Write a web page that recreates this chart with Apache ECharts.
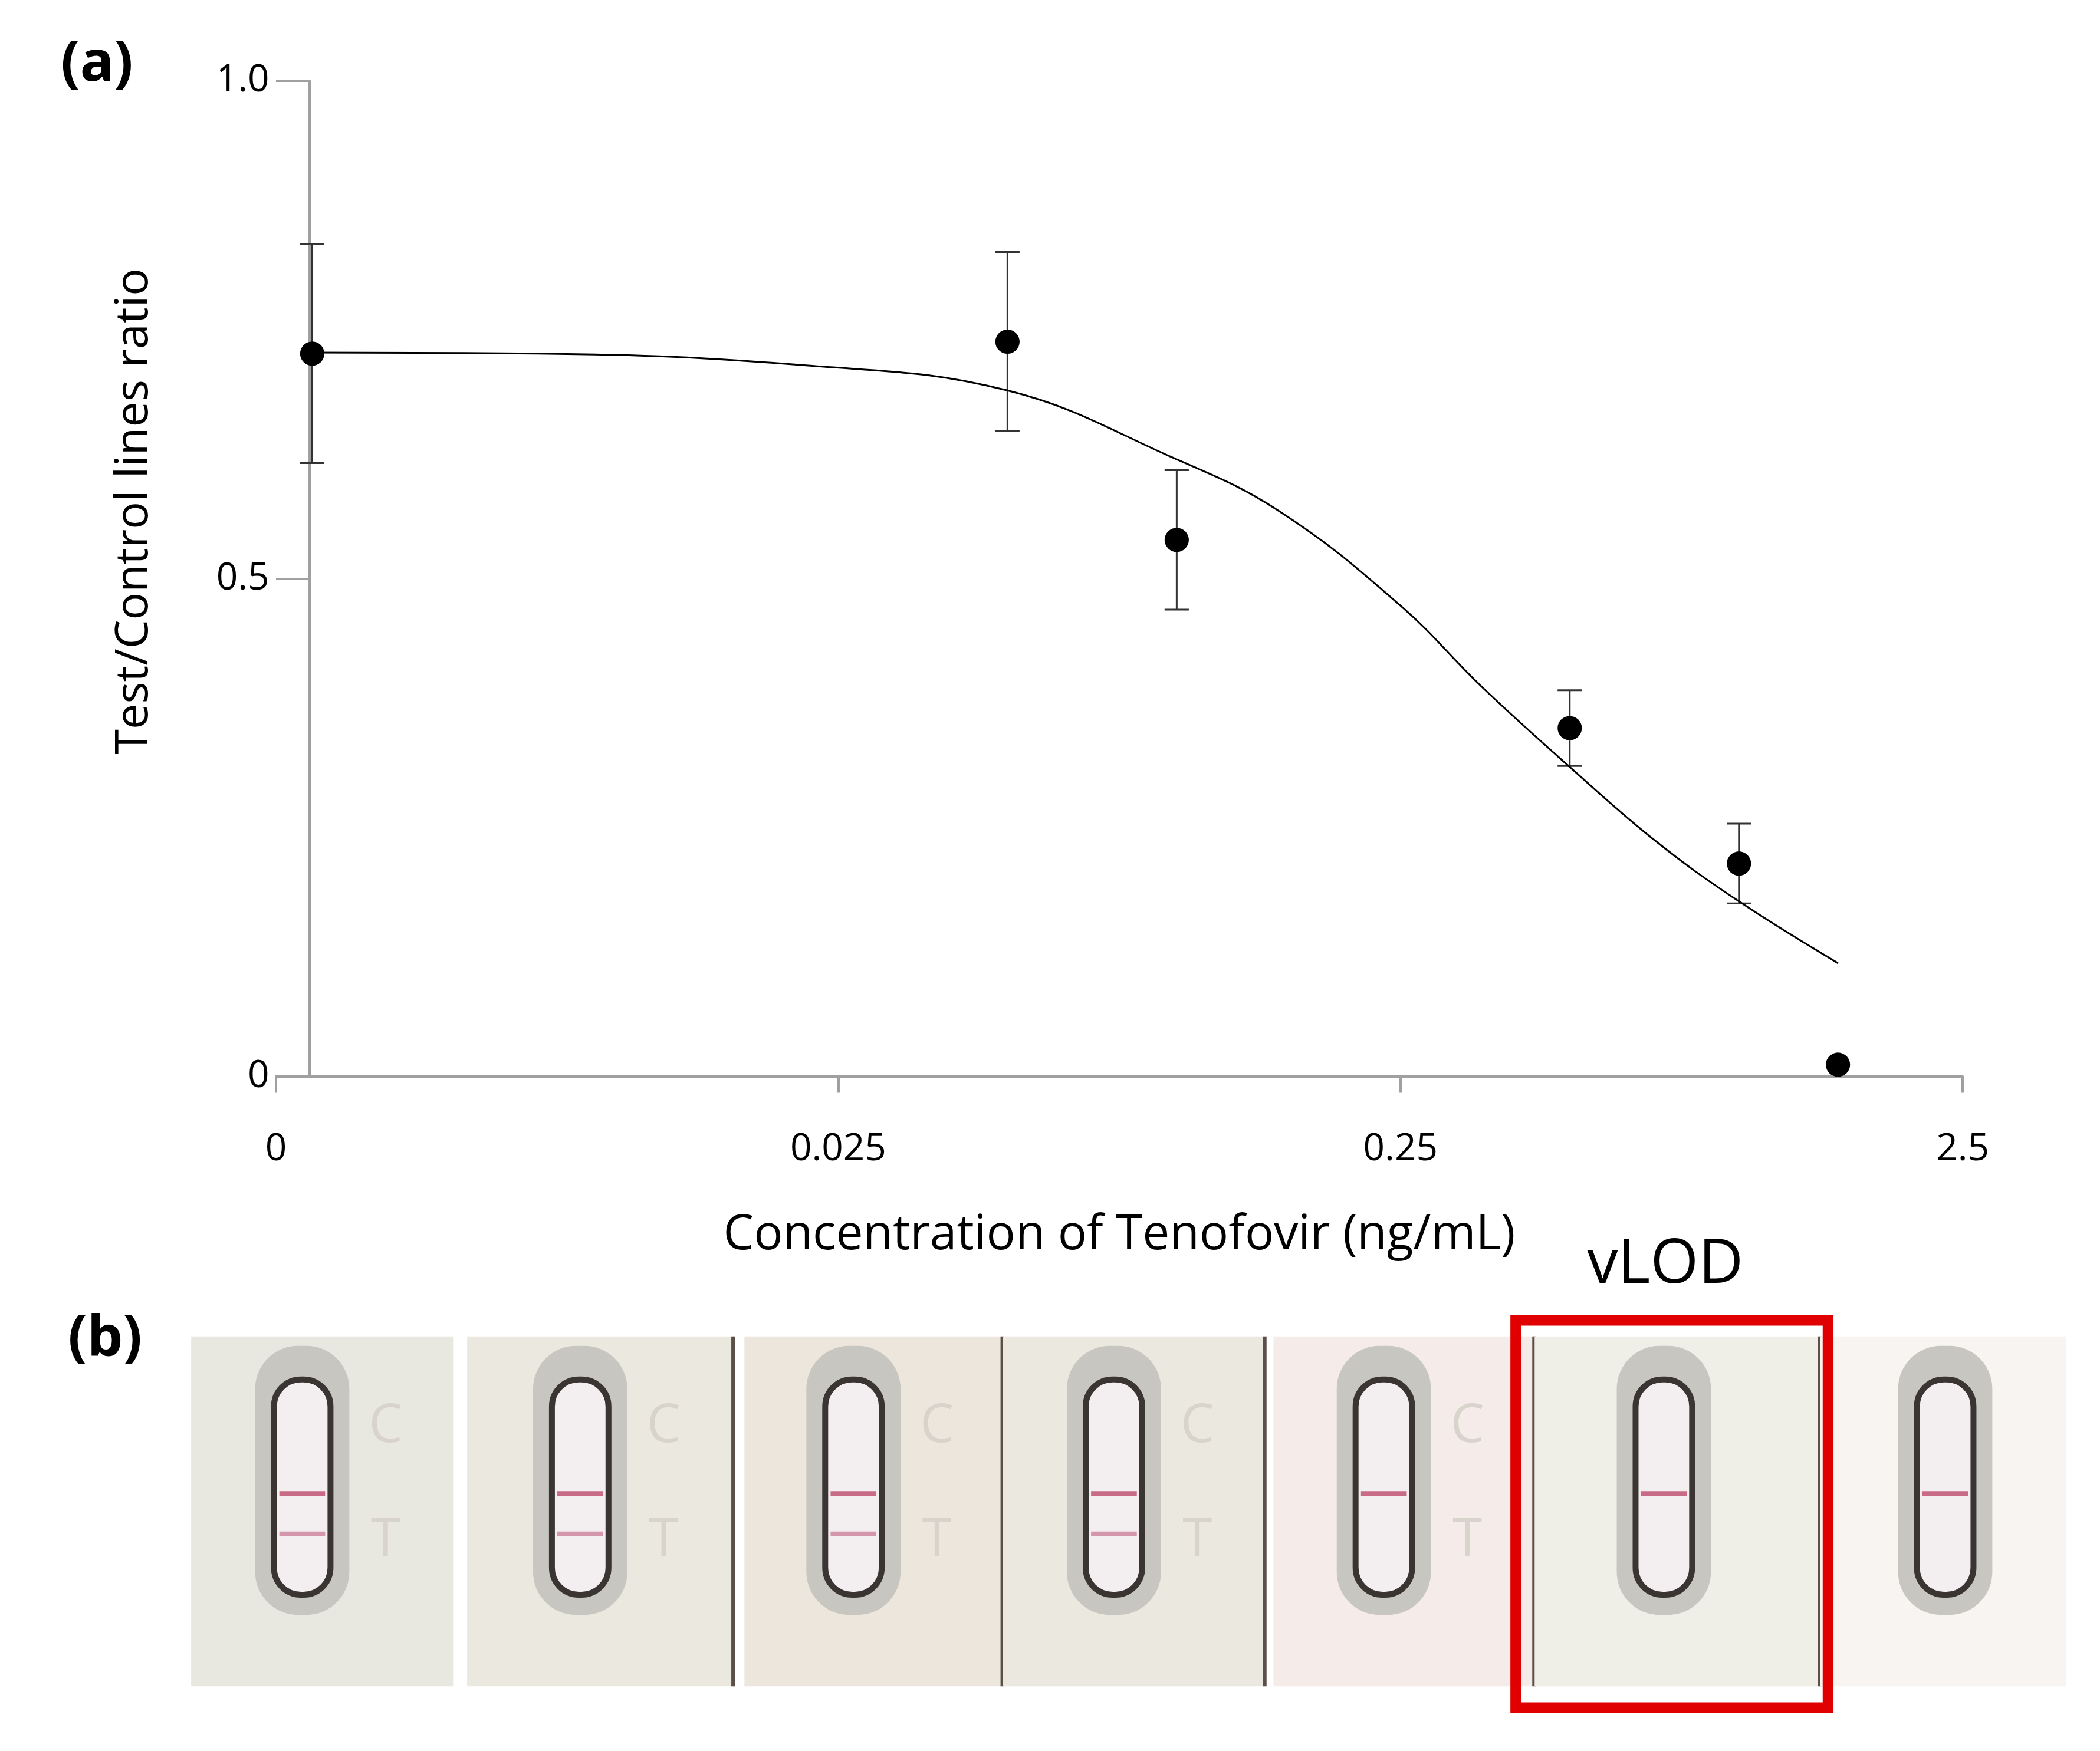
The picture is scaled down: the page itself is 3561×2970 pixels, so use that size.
<!DOCTYPE html>
<html><head><meta charset="utf-8">
<script src="https://cdn.jsdelivr.net/npm/echarts@6/dist/echarts.min.js"></script>
<style>html,body{margin:0;padding:0;background:#fff}#c{width:3561px;height:2970px}</style>
</head><body><div id="c"></div>
<script>
// data
const concentrations = [0.0029, 0.05, 0.1, 0.5, 1.0, 1.5];
const ratios = [0.726, 0.738, 0.539, 0.350, 0.214, 0.012];
const errors = [0.11, 0.09, 0.07, 0.038, 0.04, 0];
const fitX = [0.0029, 0.0073, 0.0221, 0.05, 0.098, 0.152, 0.25, 0.348, 0.5, 0.713, 1.0, 1.5];
const fitY = [0.727, 0.726, 0.714, 0.689, 0.622, 0.568, 0.473, 0.392, 0.311, 0.236, 0.176, 0.114];
const xTickLabels = ['0', '0.025', '0.25', '2.5'];
const xBase = 0.0025;
const stripLines = [['C','T'],['C','T'],['C','T'],['C','T'],['C'],['C'],['C']];

const S = 3561 / 1560;
const font = 'Open Sans';
const pos = c => Math.log10(c / xBase);
const chart = echarts.init(document.getElementById('c'));

const panels = [[142,337],[347,545],[553,745],[745,940],[946,1140],[1140,1352],[1352,1535]];
const bgs = ['#e9e8e0','#ebe9df','#ece6dd','#ebe8e0','#f5ebe8','#f0efe7','#f7f4f1'];
const g = [];
panels.forEach((p, i) => {
  const x0 = p[0]*S, x1 = p[1]*S, cx = (i===6 ? 1445 : (p[0]+p[1])/2 - (i===5?10:0) - (i<5?15:0))*S;
  g.push({type:'rect', shape:{x:x0, y:993*S, width:x1-x0, height:260*S}, style:{fill:bgs[i]}});
  if (i>0 && i<6) g.push({type:'rect', shape:{x:x1-4, y:993*S, width:6, height:260*S}, style:{fill:'#5a5048'}});
  g.push({type:'rect', shape:{x:cx-35*S, y:1000*S, width:70*S, height:200*S, r:32*S}, style:{fill:'#c8c6c0'}});
  g.push({type:'rect', shape:{x:cx-21*S, y:1025*S, width:42*S, height:160*S, r:20*S}, style:{fill:'#f3eff0', stroke:'#3a3532', lineWidth:10}});
  stripLines[i].forEach((l, k) => {
    g.push({type:'rect', shape:{x:cx-17*S, y:(1108+k*30)*S, width:34*S, height:8}, style:{fill: k===0 ? '#c96a86' : '#d496aa'}});
  });
  if (i<5) {
    g.push({type:'text', x:cx+62*S, y:1060*S, style:{text:'C', font:`${40*S}px ${font}`, fill:'#d8d4cc', align:'center', verticalAlign:'middle'}});
    g.push({type:'text', x:cx+62*S, y:1145*S, style:{text:'T', font:`${40*S}px ${font}`, fill:'#d8d4cc', align:'center', verticalAlign:'middle'}});
  }
});
g.push({type:'rect', shape:{x:1126*S, y:981*S, width:232*S, height:288*S}, style:{fill:'none', stroke:'#e00000', lineWidth:8*S}});
g.push({type:'text', x:1237*S, y:940*S, style:{text:'vLOD', font:`${46*S}px ${font}`, fill:'#000', align:'center', verticalAlign:'middle'}});
g.push({type:'text', x:72*S, y:48*S, style:{text:'(a)', font:`bold ${42*S}px ${font}`, fill:'#000', align:'center', verticalAlign:'middle'}});
g.push({type:'text', x:78*S, y:995*S, style:{text:'(b)', font:`bold ${42*S}px ${font}`, fill:'#000', align:'center', verticalAlign:'middle'}});
g.push({type:'text', x:100*S, y:380*S, rotation:Math.PI/2, style:{text:'Test/Control lines ratio', font:`${34*S}px ${font}`, fill:'#000', align:'center', verticalAlign:'middle'}});

chart.setOption({
  backgroundColor: '#fff',
  animation: false,
  grid: {left: 205*S, right: 3561-1458*S, top: 60*S, bottom: 2970-800*S},
  xAxis: {
    type: 'value', min: 0, max: 3, interval: 1,
    name: 'Concentration of Tenofovir (ng/mL)', nameLocation: 'middle', nameGap: 100*S,
    nameTextStyle: {fontSize: 36*S, fontFamily: font, color: '#000'},
    axisLine: {lineStyle: {color: '#a0a0a0', width: 4}},
    axisTick: {show: true, length: 12*S, lineStyle: {color: '#a0a0a0', width: 4}},
    splitLine: {show: false},
    axisLabel: {margin: 40*S, fontSize: 28*S, fontFamily: font, color: '#000',
      formatter: v => xTickLabels[Math.round(v)] || ''}
  },
  yAxis: {
    type: 'value', min: 0, max: 1, interval: 0.5, offset: -25*S,
    axisLine: {show: true, lineStyle: {color: '#a0a0a0', width: 4}},
    axisTick: {show: true, length: 25*S, lineStyle: {color: '#a0a0a0', width: 4}},
    splitLine: {show: false},
    axisLabel: {margin: 30*S, fontSize: 28*S, fontFamily: font, color: '#000',
      formatter: v => v === 0 ? '0' : v.toFixed(1)}
  },
  series: [
    {type: 'line', data: fitX.map((x, i) => [pos(x), fitY[i]]), smooth: 0.4, symbol: 'none',
     lineStyle: {color: '#000', width: 3}},
    {type: 'custom', data: concentrations.map((x, i) => [pos(x), ratios[i], errors[i]]),
     renderItem: (params, api) => {
       const e = api.value(2); if (!e) return null;
       const x = api.value(0), y = api.value(1);
       const a = api.coord([x, y + e]), b = api.coord([x, y - e]);
       const w = 9*S, st = {stroke: '#333', lineWidth: 3};
       return {type: 'group', children: [
         {type: 'line', shape: {x1: a[0], y1: a[1], x2: b[0], y2: b[1]}, style: st},
         {type: 'line', shape: {x1: a[0]-w, y1: a[1], x2: a[0]+w, y2: a[1]}, style: st},
         {type: 'line', shape: {x1: b[0]-w, y1: b[1], x2: b[0]+w, y2: b[1]}, style: st}]};
     }},
    {type: 'scatter', data: concentrations.map((x, i) => [pos(x), ratios[i]]), symbolSize: 18*S,
     itemStyle: {color: '#000', opacity: 1}}
  ],
  graphic: g
});
</script></body></html>
